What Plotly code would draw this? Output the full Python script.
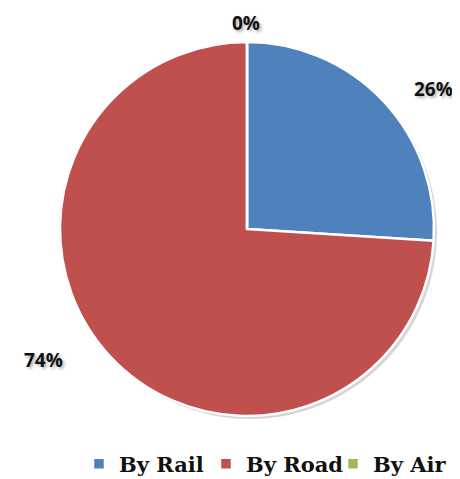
import plotly.graph_objects as go

categories = ["By Rail", "By Road", "By Air"]
shares = [26, 74, 0]
colors = ["#4F81BD", "#C0504D", "#9BBB59"]

# page offset (browser body margin) and figure size
OFF = 8
W, H = 460 - OFF, 479 - OFF
cx, cy, r = 247 - OFF, 229 - OFF, 187

def dom(dx=0, dy=0):
    return dict(x=[(cx + dx - r) / W, (cx + dx + r) / W],
                y=[1 - (cy + dy + r) / H, 1 - (cy + dy - r) / H])

total = sum(shares)
label_texts = [f"{round(100 * v / total)}%" for v in shares]
# label anchor points in page pixels (Excel "best fit" placement)
label_px = [(433, 89), (43, 360), (246, 23)]

fig = go.Figure()
# soft drop shadow behind the pie
fig.add_trace(go.Pie(
    labels=["shadow"], values=[1], sort=False,
    marker=dict(colors=["rgba(0,0,0,0.16)"], line=dict(width=0)),
    textinfo="none", hoverinfo="skip", showlegend=False,
    domain=dom(3, 3),
))
fig.add_trace(go.Pie(
    labels=categories,
    values=shares,
    sort=False,
    direction="clockwise",
    rotation=0,
    marker=dict(colors=colors, line=dict(color="white", width=2.5)),
    textinfo="none",
    domain=dom(),
    showlegend=True,
))

for txt, (px, py) in zip(label_texts, label_px):
    fig.add_annotation(
        text=txt, x=(px - OFF) / W, y=1 - (py - OFF) / H,
        xref="paper", yref="paper", xanchor="center", yanchor="middle",
        showarrow=False,
        font=dict(family="Open Sans", size=19, color="#111111", weight="bold",
                  shadow="2px 2px 3px rgba(0,0,0,0.3)"),
    )

fig.update_layout(
    width=W, height=H,
    margin=dict(l=0, r=0, t=0, b=0, autoexpand=False),
    paper_bgcolor="white",
    legend=dict(orientation="h", xref="container", yref="container",
                x=1.0, xanchor="right", y=1 - (464 - OFF) / H, yanchor="middle",
                font=dict(family="DejaVu Serif", size=21, color="#111111", weight="bold"),
                itemwidth=30, entrywidth=82, traceorder="normal", bgcolor="rgba(0,0,0,0)"),
)

fig.write_html("out.html")
